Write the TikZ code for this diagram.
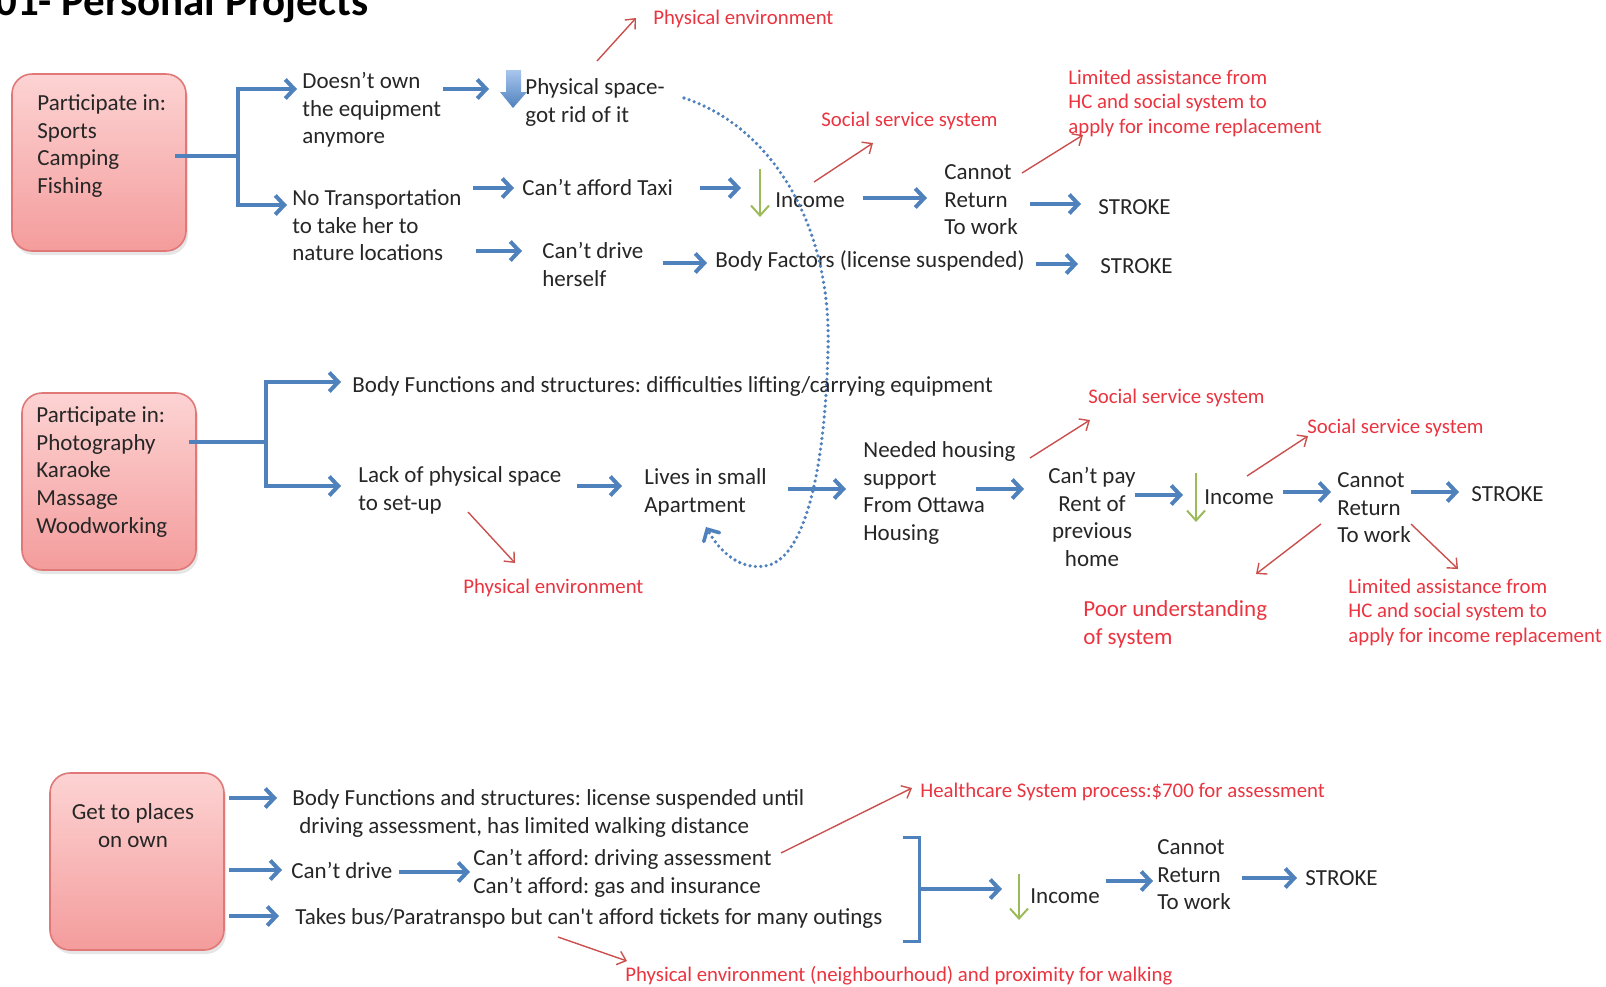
\documentclass[tikz,border=0pt]{standalone}
\usepackage{fontspec}
\setmainfont{Carlito}
\frenchspacing
\usetikzlibrary{arrows.meta,shadows,calc}
\definecolor{ablue}{HTML}{4F81BD}
\definecolor{lblue}{HTML}{A9C6EE}
\definecolor{ared}{HTML}{C9504D}
\definecolor{tred}{HTML}{EA3440}
\definecolor{agreen}{HTML}{9BBB59}
\definecolor{boxtop}{HTML}{FDD3D3}
\definecolor{boxbot}{HTML}{F49C9C}
\definecolor{boxline}{HTML}{E07878}
\definecolor{tblack}{HTML}{262626}
\newcommand\bodyf{\fontsize{11.5}{13.8}\selectfont\frenchspacing}
\newcommand\redf{\fontsize{10.4}{12.3}\selectfont\frenchspacing}
\begin{document}
\begin{tikzpicture}[x=0.5pt,y=-0.5pt,
  txt/.style={anchor=north west, inner sep=0pt, yshift=5.5pt, align=left, font=\bodyf, text=tblack, execute at begin node=\strut},
  ctxt/.style={txt, anchor=north, align=center},
  rtxt/.style={anchor=north west, inner sep=0pt, yshift=5.2pt, align=left, font=\redf, text=tred, execute at begin node=\strut},
  rbig/.style={txt, text=tred},
  box/.style={draw=boxline, line width=0.8pt, rounded corners=10pt, top color=boxtop, bottom color=boxbot,
    drop shadow={shadow xshift=1pt, shadow yshift=-2pt, opacity=0.2}, inner sep=0pt, minimum width=87pt, minimum height=88.5pt},
  bline/.style={draw=ablue, line width=2pt},
  barrow/.style={draw=ablue, line width=2pt, -{Straight Barb[length=4.5pt,width=9.5pt]}},
  rarrow/.style={draw=ared, line width=0.7pt, -{Straight Barb[length=4pt,width=7pt]}},
  garrow/.style={draw=agreen, line width=1pt, -{Straight Barb[length=5pt,width=9pt]}},
]
\useasboundingbox (0,0) rectangle (1606,986);

% title
\node[anchor=base east, inner sep=0pt, font=\fontsize{21.5}{23}\selectfont\bfseries, text=black] (title) at (369,15) {001- Personal Projects};

% ---------- section 1 ----------
\node[box] (b1) at (99,162.5) {};
\node[txt] (b1t) at (37,102) {\strut Participate in:\\Sports\\Camping\\Fishing};
\coordinate (j1) at (238,156);
\draw[bline] ([xshift=-6pt]b1.east |- j1) -- (j1);
\draw[barrow] (j1) |- (297,89);
\draw[barrow] (j1) |- (287,205);

\node[txt] (own) at (302,80) {\strut Doesn’t own\\the equipment\\anymore};
\node[txt] (trans) at (292,197) {\strut No Transportation\\to take her to\\nature locations};
\draw[barrow] (443,89) -- (489,89);
\shade[top color=lblue, bottom color=ablue] (506,70) -- (521,70) -- (521,92) -- (527,92) -- (513,108) -- (500,92) -- (506,92) -- cycle;
\node[txt] (space) at (525,86) {\strut Physical space-\\got rid of it};
\draw[rarrow] (597,61) -- (636,18);
\node[rtxt] (env1) at (653,17) {Physical environment};

\draw[barrow] (473,188) -- (514,188);
\node[txt] (taxi) at (522,187) {Can’t afford Taxi};
\draw[barrow] (700,188) -- (741,188);
\draw[garrow] (760,169) -- (760,217);
\node[txt] (inc1) at (775,199) {Income};
\draw[rarrow] (814,182) -- (873,143);
\node[rtxt] (soc1) at (821,119) {Social service system};
\draw[barrow] (863,198) -- (927,198);
\node[txt] (cr1) at (944,171) {\strut Cannot\\Return\\To work};
\draw[rarrow] (1022,173) -- (1083,135);
\node[rtxt] (lim1) at (1068,77) {\strut Limited assistance from\\HC and social system to\\apply for income replacement};
\draw[barrow] (1030,204) -- (1081,204);
\node[txt] (st1) at (1098,206) {STROKE};

\draw[barrow] (476,251) -- (522,251);
\node[txt] (drive) at (542,250) {\strut Can’t drive\\herself};
\draw[barrow] (663,263) -- (707,263);
\node[txt] (bodyf) at (715,259) {Body Factors (license suspended)};
\draw[barrow] (1036,264) -- (1078,264);
\node[txt] (st2) at (1100,265) {STROKE};

% dotted curve
\draw[draw=ablue, line width=1.8pt, dash pattern=on 0pt off 2.7pt, line cap=round, -{Straight Barb[length=4.5pt,width=9pt,line cap=round]}]
  (684,98) .. controls (775,128) and (832,230) .. (828,350)
  .. controls (825,470) and (805,560) .. (765,566)
  .. controls (740,570) and (720,552) .. (706,527);

% ---------- section 2 ----------
\node[box] (b2) at (109,481.5) {};
\node[txt] (b2t) at (36,414) {\strut Participate in:\\Photography\\Karaoke\\Massage\\Woodworking};
\coordinate (j2) at (266,442);
\draw[bline] ([xshift=-4pt]b2.east |- j2) -- (j2);
\draw[barrow] (j2) |- (341,382);
\draw[barrow] (j2) |- (341,486);
\node[txt] (bfs2) at (352,384) {Body Functions and structures: difficulties lifting/carrying equipment};
\node[txt] (lack) at (358,474) {\strut Lack of physical space\\to set-up};
\draw[rarrow] (468,512) -- (515,563);
\node[rtxt] (env2) at (463,586) {Physical environment};
\draw[barrow] (577,486) -- (622,486);
\node[txt] (lives) at (644,476) {\strut Lives in small\\Apartment};
\draw[barrow] (788,489) -- (846,489);
\node[txt] (need) at (863,449) {\strut Needed housing\\support\\From Ottawa\\Housing};
\draw[rarrow] (1030,458) -- (1090,420);
\node[rtxt] (soc2) at (1088,396) {Social service system};
\draw[barrow] (976,489) -- (1024,489);
\node[ctxt] (rent) at (1092,475) {\strut Can’t pay\\Rent of\\previous\\home};
\draw[barrow] (1135,495) -- (1183,495);
\draw[garrow] (1196,473) -- (1196,522);
\node[txt] (inc2) at (1204,496) {Income};
\draw[rarrow] (1247,476) -- (1308,436);
\node[rtxt] (soc3) at (1307,426) {Social service system};
\draw[barrow] (1283,492) -- (1331,492);
\node[txt] (cr2) at (1337,479) {\strut Cannot\\Return\\To work};
\draw[barrow] (1411,492) -- (1459,492);
\node[txt] (st3) at (1471,493) {STROKE};
\draw[rarrow] (1321,524) -- (1256,574);
\node[rbig] (poor) at (1083,608) {\strut Poor understanding\\of system};
\draw[rarrow] (1411,524) -- (1458,569);
\node[rtxt] (lim2) at (1348,586) {\strut Limited assistance from\\HC and social system to\\apply for income replacement};

% ---------- section 3 ----------
\node[box] (b3) at (137,861.5) {};
\node[ctxt] (b3t) at (133,811) {\strut Get to places\\on own};
\draw[barrow] ([xshift=2pt]b3.east |- 0,798) -- (277,798);
\draw[barrow] ([xshift=2pt]b3.east |- 0,870) -- (282,870);
\draw[barrow] ([xshift=2pt]b3.east |- 0,916) -- (279,916);
\node[txt] (bfs3) at (292,797) {\strut Body Functions and structures: license suspended until\\\hspace{0.3em}driving assessment, has limited walking distance};
\node[txt] (drive3) at (291,870) {Can’t drive};
\draw[barrow] (399,872) -- (470,872);
\node[txt] (afford) at (473,857) {\strut Can’t afford: driving assessment\\Can’t afford: gas and insurance};
\node[txt] (bus) at (295,916) {Takes bus/Paratranspo but can\textquotesingle t afford tickets for many outings};
\draw[rarrow] (781,853) -- (912,788);
\node[rtxt] (hc) at (920,790) {Healthcare System process:\$700 for assessment};
\draw[rarrow] (558,937) -- (627,961);
\node[rtxt] (env3) at (625,974) {Physical environment (neighbourhoud) and proximity for walking};
\draw[draw=ablue, line width=1.5pt] (903,837) -- (919,837) -- (919,941) -- (903,941);
\coordinate (brk) at (919,889);
\draw[barrow] (brk) -- (1002,889);
\draw[garrow] (1019,874) -- (1019,920);
\node[txt] (inc3) at (1030,895) {Income};
\draw[barrow] (1106,881) -- (1153,881);
\node[txt] (cr3) at (1157,846) {\strut Cannot\\Return\\To work};
\draw[barrow] (1242,878) -- (1297,878);
\node[txt] (st4) at (1305,877) {STROKE};
\end{tikzpicture}
\end{document}
